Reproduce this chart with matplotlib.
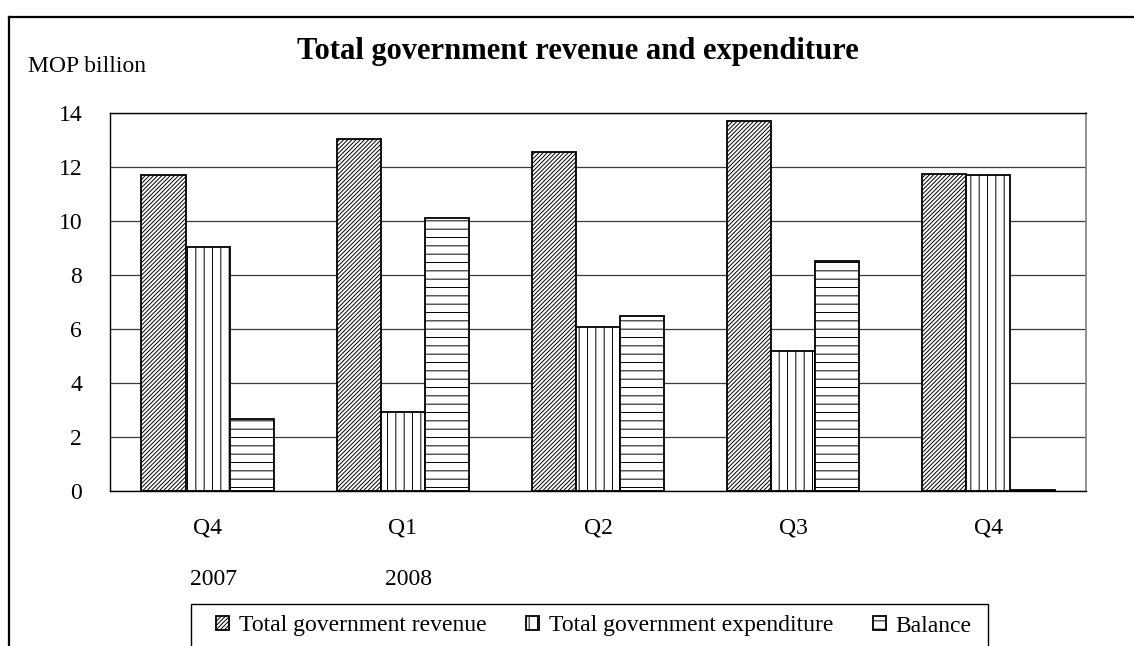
import matplotlib
matplotlib.use("Agg")
import matplotlib.pyplot as plt
import numpy as np
from matplotlib.lines import Line2D
from matplotlib.patches import Rectangle

quarters = ["Q4", "Q1", "Q2", "Q3", "Q4"]
years = ["2007", "2008"]
revenue = [11.70, 13.04, 12.57, 13.70, 11.75]
expenditure = [9.04, 2.92, 6.08, 5.18, 11.72]
balance = [2.66, 10.12, 6.47, 8.52, 0.03]
series_names = ["Total government revenue", "Total government expenditure", "Balance"]

plt.rcParams['font.family'] = ['Liberation Serif', 'DejaVu Serif']
plt.rcParams['hatch.linewidth'] = 0.7

W, H = 1134, 646
fs = 17
fig = plt.figure(figsize=(W / 100, H / 100), dpi=100)

# outer frame (right and bottom sides fall outside the picture)
fig.add_artist(Line2D([9 / W, 9 / W], [0, 1 - 17 / H], transform=fig.transFigure,
                      color='black', lw=1.6))
fig.add_artist(Line2D([9 / W, 1], [1 - 17 / H, 1 - 17 / H], transform=fig.transFigure,
                      color='black', lw=1.6))

ax = fig.add_axes([110 / W, 1 - 491 / H, (1086 - 110) / W, (491 - 113) / H])

x = np.arange(len(quarters))
w = 0.226
bars1 = ax.bar(x - w, revenue, w, facecolor='white', edgecolor='black', lw=1.3,
               hatch='////////', label=series_names[0])
bars2 = ax.bar(x, expenditure, w, facecolor='white', edgecolor='black', lw=1.3,
               hatch='||', label=series_names[1])
bars3 = ax.bar(x + w, balance, w, facecolor='white', edgecolor='black', lw=1.3,
               hatch='--', label=series_names[2])

ax.set_xlim(-0.5, len(quarters) - 0.5)
ax.set_ylim(0, 14)
ax.set_yticks(np.arange(0, 15, 2))
ax.set_xticks(x)
ax.set_xticklabels(quarters)
ax.tick_params(axis='both', length=0, labelsize=fs)
ax.tick_params(axis='y', pad=20)
ax.tick_params(axis='x', pad=19)
ax.set_axisbelow(True)
ax.yaxis.grid(True, color='#3a3a3a', lw=0.9)
for side in ['left', 'bottom', 'top']:
    ax.spines[side].set_color('black')
    ax.spines[side].set_linewidth(1.0)
ax.spines['right'].set_color('#808080')
ax.spines['right'].set_linewidth(1.2)

for i, yr in enumerate(years):
    ax.text(x[i] + 0.03, -0.235, yr, transform=ax.get_xaxis_transform(),
            ha='center', va='center', fontsize=fs)

fig.text(578 / W, 1 - 52 / H, "Total government revenue and expenditure",
         ha='center', va='center', fontsize=22, fontweight='bold')
fig.text(28 / W, 1 - 66 / H, "MOP billion", ha='left', va='center', fontsize=fs)

fig.legend(handles=[bars1, bars2, bars3], labels=series_names, ncol=3,
           loc='center', bbox_to_anchor=(594 / W, 1 - 626 / H),
           bbox_transform=fig.transFigure, frameon=False, fontsize=fs,
           handlelength=0.55, handleheight=0.55, handletextpad=0.4,
           columnspacing=1.7)
fig.add_artist(Rectangle((191 / W, -0.05), (988 - 191) / W, 0.05 + 1 - 604 / H,
                         transform=fig.transFigure, fill=False, edgecolor='black',
                         lw=1.0, clip_on=False))

fig.savefig("out.png", dpi=100, facecolor='white')
